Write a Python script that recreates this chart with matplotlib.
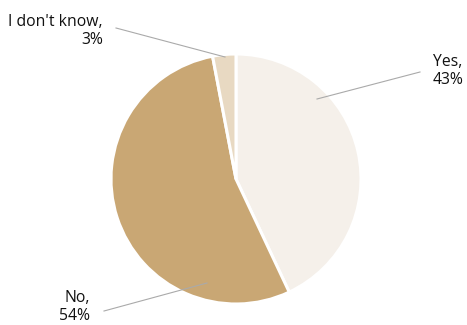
import matplotlib as mpl
mpl.use('Agg')
import matplotlib.pyplot as plt

labels = ["Yes", "No", "I don't know"]
values = [43, 54, 3]
colors = ["#f5f0ea", "#c9a774", "#e8d9c2"]

plt.rcParams['font.family'] = ['Open Sans', 'DejaVu Sans']

W, H = 467, 325
fig = plt.figure(figsize=(W / 100, H / 100), dpi=100)
ax = fig.add_axes([0, 0, 1, 1])

ax.pie(values, colors=colors, startangle=90, counterclock=False,
       center=(236, H - 179), radius=125,
       wedgeprops=dict(edgecolor='white', linewidth=2.2))

ax.set_xlim(0, W)
ax.set_ylim(0, H)
ax.set_aspect('equal')
ax.axis('off')

# positions in pixels from top-left: label text, leader start (inside wedge), leader end
label_pos = [(433, 71, 'left'), (90, 307, 'right'), (103, 31, 'right')]
leader_in = [(317, 99), (207, 283), (225, 57)]
leader_out = [(420, 72), (104, 311), (116, 28)]

for i in range(len(labels)):
    tx, ty, ha = label_pos[i]
    ax.plot([leader_in[i][0], leader_out[i][0]], [H - leader_in[i][1], H - leader_out[i][1]],
            color='#aaaaaa', lw=0.8)
    ax.text(tx, H - ty, labels[i] + ",\n" + str(values[i]) + "%", ha=ha, va='center',
            fontsize=11.3, color='#111111', linespacing=1.1)

fig.savefig('out.png', dpi=100)
